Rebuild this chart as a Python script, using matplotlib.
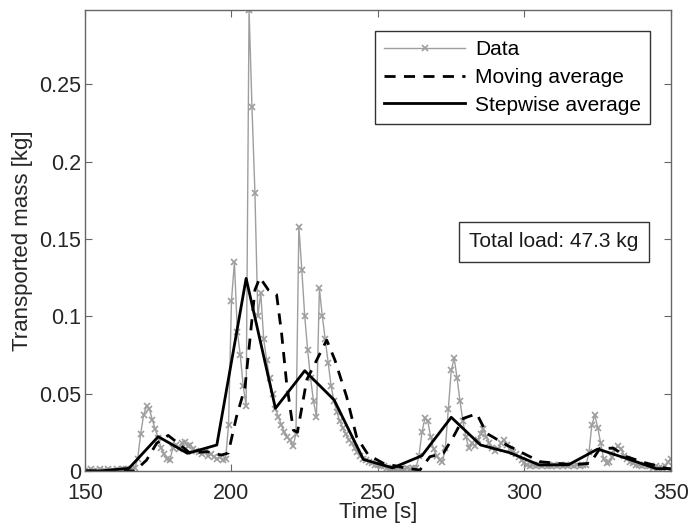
import numpy as np
import matplotlib
matplotlib.use("Agg")
import matplotlib.pyplot as plt
from matplotlib.ticker import FuncFormatter

# raw measurements, one per second from 150 s to 350 s
time_s = np.arange(150, 351, 1)
mass_kg = [
    0.000, 0.000, 0.001, 0.000, 0.000, 0.001, 0.000, 0.000, 0.001, 0.000,   # 150
    0.000, 0.001, 0.000, 0.001, 0.001, 0.001, 0.001, 0.002, 0.008, 0.024,   # 160
    0.036, 0.042, 0.040, 0.033, 0.027, 0.021, 0.015, 0.011, 0.008, 0.007,   # 170
    0.015, 0.017, 0.014, 0.018, 0.019, 0.016, 0.017, 0.014, 0.013, 0.012,   # 180
    0.011, 0.012, 0.010, 0.011, 0.009, 0.008, 0.009, 0.007, 0.008, 0.030,   # 190
    0.110, 0.135, 0.090, 0.075, 0.055, 0.042, 0.298, 0.235, 0.180, 0.100,   # 200
    0.115, 0.085, 0.072, 0.060, 0.050, 0.040, 0.035, 0.030, 0.025, 0.022,   # 210
    0.020, 0.016, 0.024, 0.158, 0.130, 0.100, 0.078, 0.060, 0.045, 0.035,   # 220
    0.118, 0.100, 0.085, 0.070, 0.055, 0.045, 0.038, 0.032, 0.028, 0.024,   # 230
    0.020, 0.018, 0.015, 0.012, 0.010, 0.008, 0.007, 0.006, 0.005, 0.004,   # 240
    0.004, 0.003, 0.003, 0.002, 0.002, 0.002, 0.001, 0.002, 0.001, 0.001,   # 250
    0.002, 0.001, 0.002, 0.002, 0.010, 0.025, 0.034, 0.032, 0.022, 0.014,   # 260
    0.010, 0.007, 0.006, 0.015, 0.040, 0.065, 0.073, 0.060, 0.045, 0.032,   # 270
    0.022, 0.015, 0.018, 0.016, 0.020, 0.024, 0.027, 0.022, 0.018, 0.015,   # 280
    0.013, 0.014, 0.018, 0.020, 0.017, 0.014, 0.012, 0.011, 0.009, 0.007,   # 290
    0.005, 0.004, 0.003, 0.004, 0.003, 0.004, 0.003, 0.004, 0.003, 0.003,   # 300
    0.004, 0.003, 0.004, 0.003, 0.004, 0.003, 0.004, 0.003, 0.004, 0.003,   # 310
    0.004, 0.004, 0.012, 0.030, 0.036, 0.028, 0.018, 0.008, 0.005, 0.006,   # 320
    0.009, 0.014, 0.016, 0.014, 0.010, 0.008, 0.006, 0.005, 0.004, 0.004,   # 330
    0.003, 0.004, 0.003, 0.003, 0.002, 0.003, 0.002, 0.002, 0.003, 0.006,   # 340
    0.008,                                                                   # 350
]

# moving average curve
mov_t = [150, 166, 167, 171, 174.5, 178.4, 182.4, 185.8, 191.5, 196.6, 198.9,
         201.7, 204.6, 206.3, 208, 209.7, 212.6, 215.4, 217.1, 218.8, 221.1,
         222.5, 225.7, 232.5, 235.3, 239.3, 242.7, 246.7, 251.8, 259.8, 264.3,
         267.7, 272.3, 275.7, 279.1, 283.7, 287.1, 293.9, 299.6, 305.3, 316.7,
         322.4, 325.8, 330.3, 334.9, 341.7, 348.5, 350]
mov_v = [0.000, 0.000, 0.000, 0.007, 0.018, 0.023, 0.017, 0.0116, 0.0125, 0.0103, 0.0116,
         0.035, 0.054, 0.085, 0.117, 0.125, 0.117, 0.114, 0.089, 0.057, 0.0265,
         0.025, 0.059, 0.0846, 0.0717, 0.048, 0.022, 0.0103, 0.005, 0.0017, 0.0006,
         0.0092, 0.0114, 0.022, 0.034, 0.037, 0.0243, 0.0168, 0.0114, 0.006, 0.004,
         0.005, 0.0147, 0.0147, 0.0092, 0.005, 0.0017, 0.001]

# stepwise (10 s block) average
step_t = [150, 155, 165, 175, 185, 195, 205, 215, 225, 235, 245, 255, 265,
          275, 285, 295, 305, 315, 325, 335, 345, 350]
step_v = [0.000, 0.000, 0.0017, 0.0222, 0.0114, 0.0168, 0.1245, 0.0405, 0.0648,
          0.046, 0.0075, 0.002, 0.0099, 0.0347, 0.0168, 0.0118, 0.0039, 0.004,
          0.0142, 0.008, 0.0015, 0.0015]

total_load = 47.3

plt.rcParams['font.family'] = ['Liberation Sans', 'DejaVu Sans']

fig = plt.figure(figsize=(6.88, 5.32), dpi=100)
ax = fig.add_axes([0.1235, 0.1147, 0.8518, 0.8665])

ax.plot(time_s, mass_kg, '-x', color='0.62', linewidth=1.0, markersize=4.5,
        markeredgewidth=1.2, label='Data')
ax.plot(mov_t, mov_v, '--', color='black', linewidth=2.0, dashes=(4, 3),
        label='Moving average')
ax.plot(step_t, step_v, '-', color='black', linewidth=2.0,
        label='Stepwise average')

ax.set_xlim(150, 350)
ax.set_ylim(0, 0.298)
ax.set_xticks([150, 200, 250, 300, 350])
ax.set_yticks([0, 0.05, 0.1, 0.15, 0.2, 0.25])
ax.yaxis.set_major_formatter(FuncFormatter(lambda v, p: f'{v:g}'))

for s in ax.spines.values():
    s.set_color('0.4')
    s.set_linewidth(1.0)
ax.tick_params(direction='in', top=True, right=True, length=5, color='0.4',
               labelsize=15.5, labelcolor='0.15')
ax.tick_params(axis='x', pad=8.5)
ax.tick_params(axis='y', pad=3)

ax.set_xlabel('Time [s]', fontsize=16, color='0.15', labelpad=-1)
ax.set_ylabel('Transported mass [kg]', fontsize=16, color='0.15', labelpad=4)

leg = ax.legend(loc='upper right', bbox_to_anchor=(0.965, 0.955), fontsize=15,
                fancybox=False, edgecolor='0.2', framealpha=1.0,
                handlelength=3.85, borderpad=0.45, labelspacing=0.42,
                handletextpad=0.5, borderaxespad=0)
leg.get_frame().set_linewidth(1.0)

ax.text(0.8, 0.497, f'Total load: {total_load} kg', transform=ax.transAxes,
        fontsize=15, ha='center', va='center', color='0.1',
        bbox=dict(boxstyle='square,pad=0.5', facecolor='white',
                  edgecolor='0.2', linewidth=1.0))

fig.savefig('out.png', dpi=100)
